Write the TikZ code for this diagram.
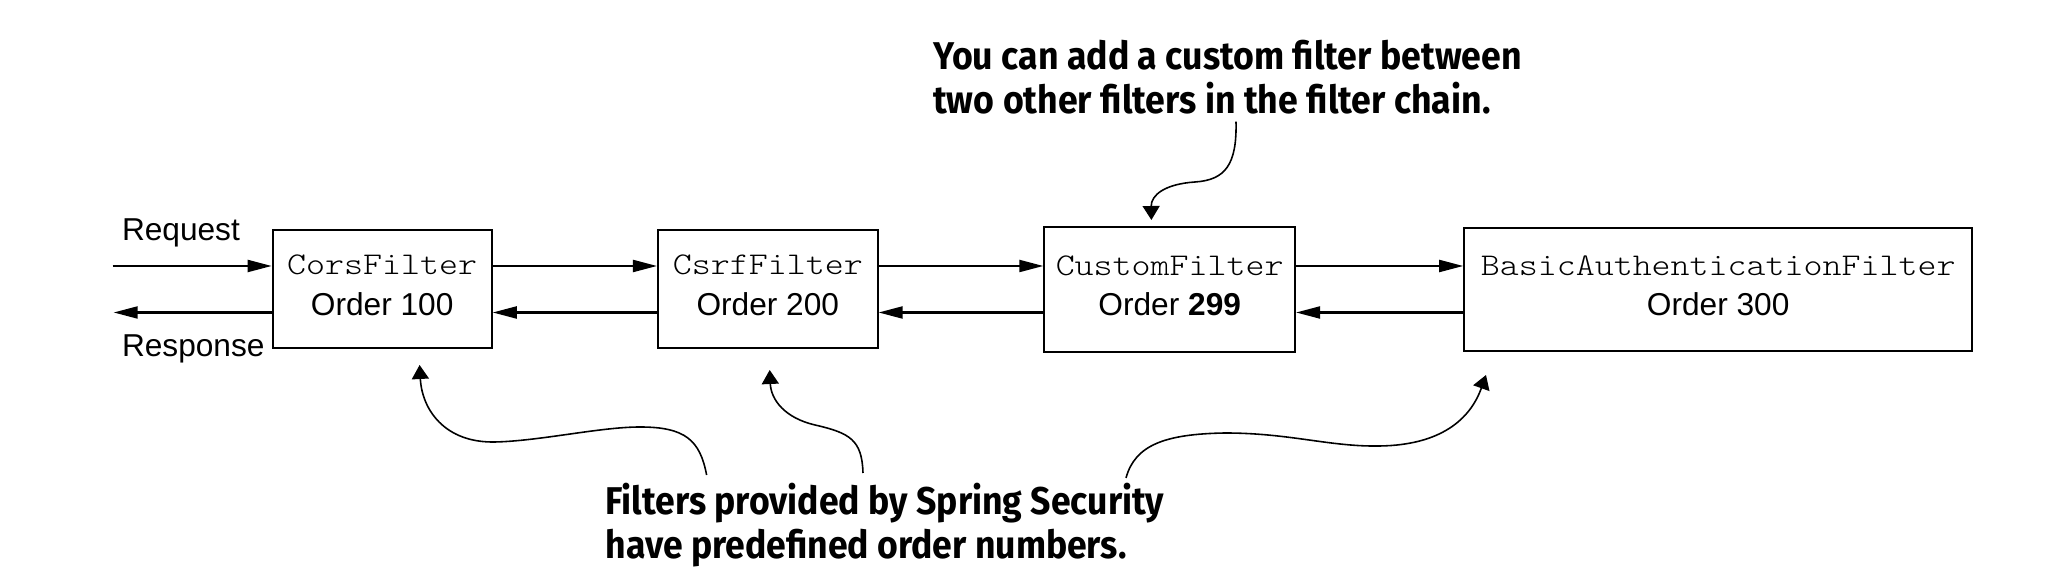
\documentclass[tikz,border=0pt]{standalone}
\usepackage{fontspec}
\setmainfont{Liberation Sans}
\newfontfamily\callfont{Fira Sans}
\newfontfamily\codefont{lmmonolt10-regular}[Extension=.otf]
\usetikzlibrary{arrows.meta}
\newlength\calwA
\newlength\calwB
\newcommand\lowdepth{\rule[-2.3pt]{0pt}{0pt}}
\newcommand\codetext[1]{\scalebox{1.143}[1]{\codefont #1}}
\begin{document}
\settowidth\calwA{\callfont\bfseries\fontsize{11}{11.9}\selectfont You can add a custom filter between}%
\settowidth\calwB{\callfont\bfseries\fontsize{11}{11.9}\selectfont Filters provided by Spring Security}%
\pgfmathsetmacro\sxA{167.4/\calwA}%
\pgfmathsetmacro\sxB{158.9/\calwB}%
\begin{tikzpicture}[x=0.01cm,y=-0.01cm,
  filterbox/.style={draw,line width=0.55pt,inner sep=0pt,align=center,font=\fontsize{9}{11.4}\selectfont},
  flow/.style={line width=0.6pt,-{Triangle[length=2.4mm,width=1.2mm]}},
  pointer/.style={line width=0.45pt,-{Triangle[length=1.4mm,width=1.7mm]}},
  plainlabel/.style={font=\fontsize{9}{11}\selectfont,inner sep=0pt},
  callout/.style={inner sep=0pt,font=\callfont\bfseries\fontsize{11}{11.9}\selectfont}]
\useasboundingbox (0,0) rectangle (2048,586);

% boxes
\node[filterbox,minimum width=2.19cm,minimum height=1.183cm] (cors) at (382.2,289.2) {\codetext{CorsFilter}\\Order 100\lowdepth};
\node[filterbox,minimum width=2.196cm,minimum height=1.183cm] (csrf) at (767.8,289.2) {\codetext{CsrfFilter}\\Order 200\lowdepth};
\node[filterbox,minimum width=2.507cm,minimum height=1.244cm] (custom) at (1169.7,289.5) {\codetext{CustomFilter}\\Order \textbf{299}\lowdepth};
\node[filterbox,minimum width=5.078cm,minimum height=1.224cm] (basic) at (1718.2,289.5) {\codetext{BasicAuthenticationFilter}\\Order 300\lowdepth};

% rows of the flow arrows
\coordinate (rowA) at (0,266);
\coordinate (rowB) at (0,312.5);
\coordinate (reqfrom) at (112.5,266);
\coordinate (respto) at (113.7,312.5);

\node[plainlabel,anchor=base west] (request) at (121.3,240.7) {Request};
\node[plainlabel,anchor=base west] (response) at (121.3,356.7) {Response};

\draw[flow] (reqfrom) -- (cors.west |- rowA);
\draw[flow] (cors.west |- rowB) -- (respto);
\draw[flow] (cors.east |- rowA) -- (csrf.west |- rowA);
\draw[flow] (csrf.west |- rowB) -- (cors.east |- rowB);
\draw[flow] (csrf.east |- rowA) -- (custom.west |- rowA);
\draw[flow] (custom.west |- rowB) -- (csrf.east |- rowB);
\draw[flow] (custom.east |- rowA) -- (basic.west |- rowA);
\draw[flow] (basic.west |- rowB) -- (custom.east |- rowB);

% callouts
\node[callout,anchor=base west] (topnote) at (932.5,70) {\scalebox{\sxA}[1]{\begin{tabular}[t]{@{}l@{}}You can add a custom filter between\\two other filters in the filter chain.\end{tabular}}};
\node[callout,anchor=base west] (bottomnote) at (604.8,515) {\fontsize{11}{12.3}\selectfont\scalebox{\sxB}[1]{\begin{tabular}[t]{@{}l@{}}Filters provided by Spring Security\\have predefined order numbers.\end{tabular}}};

\coordinate (topfrom) at (1236,121.7);
\coordinate (topto) at (1151.4,220);
\draw[pointer] (topfrom) .. controls (1237,165) and (1225,180) .. (1195,182) .. controls (1165,184) and (1151,195) .. (topto);

\coordinate (bfromA) at (706.6,475);
\coordinate (btoA) at (419.6,365);
\draw[pointer] (bfromA) .. controls (700,440) and (685,427) .. (640,427) .. controls (600,427) and (540,441) .. (495,442) .. controls (445,443) and (422,410) .. (btoA);

\coordinate (bfromB) at (863,473);
\coordinate (btoB) at (769.7,370);
\draw[pointer] (bfromB) .. controls (862,440) and (850,433) .. (815,425) .. controls (785,418) and (771,400) .. (btoB);

\coordinate (bfromC) at (1126,478);
\coordinate (btoC) at (1486,375);
\draw[pointer] (bfromC) .. controls (1135,445) and (1165,434) .. (1225,433) .. controls (1290,433) and (1330,447) .. (1380,446) .. controls (1440,445) and (1470,420) .. (btoC);
\end{tikzpicture}
\end{document}
